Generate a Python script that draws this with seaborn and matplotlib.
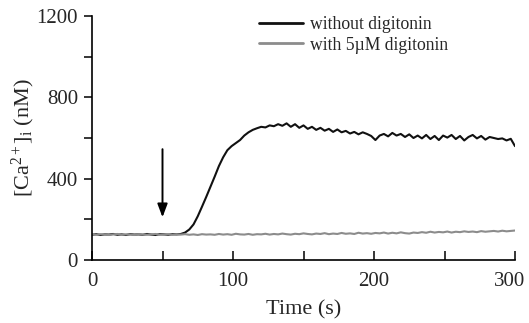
import numpy as np
import pandas as pd
import matplotlib
matplotlib.use("Agg")
import matplotlib.pyplot as plt
import matplotlib.transforms as mtransforms
import seaborn as sns
from matplotlib.ticker import MultipleLocator

# ---- data ----
time_s = list(range(0, 301, 3))

without_digitonin = [
    124, 127, 123, 126, 125, 128, 124, 126, 123, 127, 125, 126, 124, 128, 125, 123, 127, 126, 124, 127, 126,
    128, 135, 150, 175, 215, 262, 310, 360, 410, 462,
    505, 540, 560, 575, 590, 612, 628, 640, 648, 655,
    652, 662, 658, 668, 660, 672, 655, 668, 650, 662,
    645, 655, 640, 650, 636, 645, 630, 642, 628, 635,
    622, 630, 618, 628, 620, 610, 590, 612, 620, 608,
    625, 612, 620, 605, 618, 600, 612, 598, 615, 595,
    610, 590, 612, 602, 615, 595, 610, 588, 605, 615,
    598, 610, 592, 605, 600, 595, 598, 588, 596, 560,
]

with_digitonin = [
    126, 124, 127, 125, 123, 126, 128, 124, 126, 125, 123, 127, 125, 124, 126, 128, 124, 125, 127, 124, 126,
    125, 127, 124, 126, 123, 127, 125, 126, 124, 128,
    125, 127, 124, 129, 126, 125, 128, 124, 127, 126,
    129, 125, 128, 126, 130, 127, 125, 129, 127, 131,
    128, 126, 130, 128, 132, 127, 130, 128, 133, 129,
    131, 128, 134, 130, 132, 129, 133, 131, 135, 130,
    134, 131, 136, 132, 130, 135, 133, 137, 134, 139,
    135, 138, 136, 140, 135, 139, 137, 141, 138, 140,
    137, 142, 139, 141, 143, 140, 144, 141, 143, 145,
]

series_labels = ["without digitonin", "with 5\u00b5M digitonin"]
series_colors = ["#111111", "#8c8c8c"]

x_ticks = [0, 100, 200, 300]
y_ticks = [0, 400, 800, 1200]

df = pd.concat([
    pd.DataFrame({"Time": time_s, "Ca": without_digitonin, "cond": series_labels[0]}),
    pd.DataFrame({"Time": time_s, "Ca": with_digitonin, "cond": series_labels[1]}),
])

# ---- style ----
sns.set_style("ticks")
plt.rcParams["font.family"] = ["Liberation Serif", "DejaVu Serif"]
plt.rcParams["mathtext.fontset"] = "custom"
plt.rcParams["mathtext.rm"] = "Liberation Serif"
plt.rcParams["mathtext.it"] = "Liberation Serif:italic"

fig = plt.figure(figsize=(5.29, 3.23), dpi=100)
# axes spans x px 92..515, y px 16..260
ax = fig.add_axes([92 / 529, 1 - 260 / 323, 423 / 529, 244 / 323])

sns.lineplot(data=df, x="Time", y="Ca", hue="cond", palette=series_colors,
             hue_order=series_labels, linewidth=1.5, ax=ax, legend=True)

ax.set_xlim(0, 300)
ax.set_ylim(0, 1200)
ax.set_xticks(x_ticks)
ax.set_yticks(y_ticks)
ax.xaxis.set_minor_locator(MultipleLocator(50))
ax.yaxis.set_minor_locator(MultipleLocator(200))
ax.tick_params(axis="x", which="both", direction="in", length=6.5, width=1.1,
               labelsize=15, pad=9, color="black", top=False)
ax.tick_params(axis="y", which="both", direction="out", length=6, width=1.1,
               labelsize=15, pad=4, color="black", right=False)
ax.tick_params(axis="x", which="minor", labelbottom=False)
for s in ["top", "right"]:
    ax.spines[s].set_visible(False)
for s in ["left", "bottom"]:
    ax.spines[s].set_linewidth(1.2)
    ax.spines[s].set_color("black")

ax.set_xlabel("Time (s)", fontsize=16, labelpad=6)
ax.set_ylabel(r"[Ca$^{2+}$]$_\mathrm{i}$ (nM)", fontsize=16, labelpad=0)

# keep the last x tick label inside the figure
fig.canvas.draw()
last_lbl = ax.get_xticklabels()[-1]
last_lbl.set_transform(last_lbl.get_transform() +
                       mtransforms.ScaledTranslation(-4 / 72, 0, fig.dpi_scale_trans))

# arrow marking addition at 50 s
ax.annotate("", xy=(50, 210), xytext=(50, 545),
            arrowprops=dict(arrowstyle="-|>,head_width=0.3,head_length=0.8",
                            color="black", lw=1.4, shrinkA=0, shrinkB=0))

leg = ax.legend(frameon=False, fontsize=12.7, loc="upper left",
                bbox_to_anchor=((259 - 92) / 423, (260 - 16) / 244),
                handlelength=2.5, handletextpad=0.4, labelspacing=0.2,
                borderaxespad=0, borderpad=0)
for h in leg.get_lines():
    h.set_linewidth(2.0)

fig.savefig("out.png", dpi=100)
